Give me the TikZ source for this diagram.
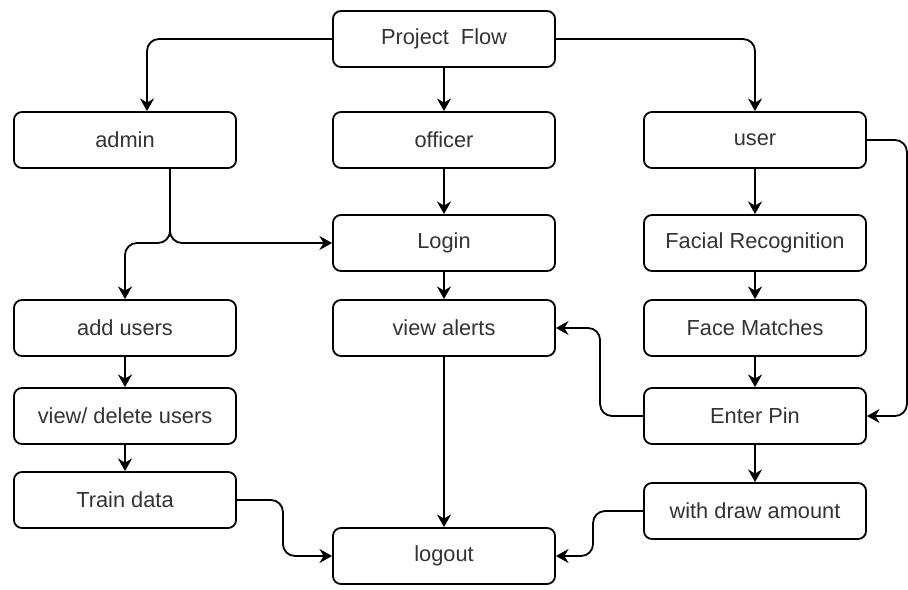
\documentclass[tikz,border=0pt]{standalone}
\usepackage{fontspec}
\setmainfont{Liberation Sans}
\usetikzlibrary{arrows.meta,calc}
\definecolor{txtgray}{HTML}{333333}

\begin{document}
\begin{tikzpicture}[
    x=0.025cm, y=-0.025cm,
    box/.style={draw, line width=1.3pt, rounded corners=0.2cm, minimum width=5.55cm, minimum height=1.4cm, align=center, font=\fontsize{15.5}{18}\selectfont, text=txtgray},
    arr/.style={-{Stealth[length=9pt, width=10pt, inset=3pt]}, line width=1.3pt, rounded corners=0.3cm}
]
\useasboundingbox (0,0) rectangle (908,590);

\node[box] (flow) at (444,39) {Project\ \ Flow};
\node[box] (admin) at (125,140) {admin};
\node[box] (officer) at (444,140) {officer};
\node[box] (user) at (755,140) {user};
\node[box] (login) at (444,243) {Login};
\node[box] (facial) at (755,243) {Facial Recognition};
\node[box] (addusers) at (125,328) {add users};
\node[box] (alerts) at (444,328) {view alerts};
\node[box] (matches) at (755,328) {Face Matches};
\node[box] (viewdel) at (125,416) {view/ delete users};
\node[box] (pin) at (755,416) {Enter Pin};
\node[box] (train) at (125,500) {Train data};
\node[box] (withdraw) at (755,511) {with draw amount};
\node[box] (logout) at (444,556) {logout};

% top level
\draw[arr] (flow.west) -| ($(admin.north)+(22,0)$);
\draw[arr] (flow) -- (officer);
\draw[arr] (flow.east) -| (user.north);

% admin side
\draw[arr] ($(admin.south)+(45,0)$) |- (login.west);
\draw[arr] ($(admin.south)+(45,0)$) |- (addusers.north |- login.west) -- (addusers.north);
\draw[arr] (addusers) -- (viewdel);
\draw[arr] (viewdel) -- (train);
\draw[arr] (train.east) -- ++(46,0) |- (logout.west);

% officer side
\draw[arr] (officer) -- (login);
\draw[arr] (login) -- (alerts);
\draw[arr] (alerts) -- (logout);

% user side
\draw[arr] (user) -- (facial);
\draw[arr] (facial) -- (matches);
\draw[arr] (matches) -- (pin);
\draw[arr] (pin) -- (withdraw);
\draw[arr] (user.east) -- ++(40,0) |- (pin.east);
\draw[arr] (pin.west) -- ++(-43,0) |- (alerts.east);
\draw[arr] (withdraw.west) -- ++(-50,0) |- (logout.east);
\end{tikzpicture}
\end{document}
